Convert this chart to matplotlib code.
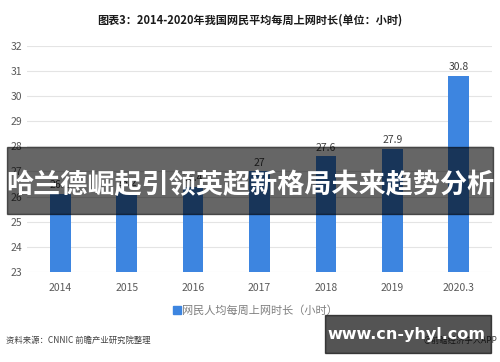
import numpy as np
import matplotlib.pyplot as plt
from matplotlib.patches import Rectangle

plt.rcParams['font.family'] = ['Noto Sans CJK SC', 'DejaVu Sans']

years = ['2014', '2015', '2016', '2017', '2018', '2019', '2020.3']
hours = [26.1, 26.2, 26.4, 27.0, 27.6, 27.9, 30.8]
labels = ['26.1', '26.2', '26.4', '27', '27.6', '27.9', '30.8']
yticks = list(range(23, 33))

fig = plt.figure(figsize=(5, 3.62), dpi=100)
ax = fig.add_axes([0.054, 0.249, 0.93, 0.624])

x = np.arange(len(years))
ax.bar(x, hours, width=0.31, color='#3d85e0', zorder=2)
for xi, h, s in zip(x, hours, labels):
    ax.text(xi, h + 0.15, s, ha='center', va='bottom', fontsize=7.5, color='#404040')

ax.set_ylim(23, 32)
ax.set_xlim(-0.5, len(years) - 0.5)
ax.set_yticks(yticks)
ax.set_xticks(x)
ax.set_xticklabels(years)
ax.grid(axis='y', color='#e4e4e4', linewidth=0.8, zorder=0)
for sp in ax.spines.values():
    sp.set_visible(False)
ax.tick_params(length=0, labelsize=7.5, labelcolor='#595959')
ax.tick_params(axis='x', pad=8)

fig.text(0.5, 0.945, '图表3：2014-2020年我国网民平均每周上网时长(单位：小时)',
         ha='center', va='center', fontsize=8, fontweight='bold', color='#1a1a1a')

# legend
fig.patches.append(Rectangle((0.345, 0.132), 0.016, 0.022, transform=fig.transFigure,
                             color='#3d85e0', figure=fig))
fig.text(0.364, 0.141, '网民人均每周上网时长（小时）', ha='left', va='center',
         fontsize=8, color='#7f7f7f')

fig.text(0.012, 0.06, '资料来源：CNNIC 前瞻产业研究院整理', ha='left', va='center',
         fontsize=6, color='#404040')
fig.text(0.995, 0.06, '@前瞻经济学人APP', ha='right', va='center',
         fontsize=6, color='#404040')

# banner overlay
fig.patches.append(Rectangle((0.014, 0.409), 0.972, 0.185, transform=fig.transFigure,
                             color='black', alpha=0.6, figure=fig, zorder=5))
fig.text(0.5, 0.49, '哈兰德崛起引领英超新格局未来趋势分析', ha='center', va='center',
         fontsize=19.5, fontweight='bold', color='white', zorder=6)

# watermark box
fig.patches.append(Rectangle((0.65, 0.025), 0.332, 0.105, transform=fig.transFigure,
                             color='black', alpha=0.67, figure=fig, zorder=5))
fig.text(0.813, 0.077, 'www.cn-yhyl.com', ha='center', va='center',
         fontsize=11.5, fontweight='bold', color='white', family='DejaVu Sans', zorder=6)

fig.savefig('out.png', dpi=100)
